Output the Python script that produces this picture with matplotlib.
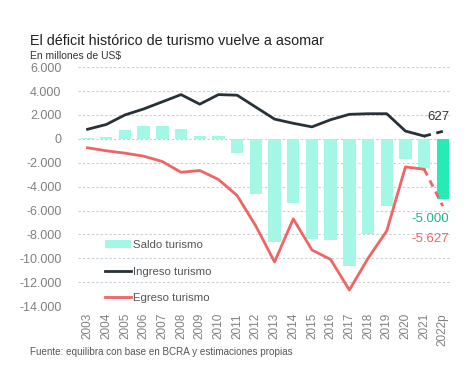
import numpy as np
import matplotlib
matplotlib.use("Agg")
import matplotlib.pyplot as plt

plt.rcParams['font.family'] = ['Liberation Sans', 'DejaVu Sans']

# datos (millones de US$)
anios = ['2003', '2004', '2005', '2006', '2007', '2008', '2009', '2010', '2011', '2012',
         '2013', '2014', '2015', '2016', '2017', '2018', '2019', '2020', '2021', '2022p']
saldo = [50, 150, 750, 1100, 1100, 850, 250, 250, -1150, -4600,
         -8600, -5400, -8350, -8500, -10600, -7950, -5600, -1700, -2400, -5000]
ingreso = [800, 1200, 2000, 2500, 3100, 3700, 2900, 3700, 3650, 2650,
           1650, 1300, 1000, 1600, 2050, 2100, 2100, 650, 230, 627]
egreso = [-750, -1000, -1200, -1450, -1900, -2800, -2650, -3400, -4750, -7300,
          -10300, -6700, -9300, -10100, -12650, -10000, -7700, -2350, -2550, -5627]

x = np.arange(len(anios))
c_bar = '#a3f7e4'
c_bar_p = '#27ebb5'
c_ing = '#263238'
c_egr = '#f06464'

fig = plt.figure(figsize=(4.74, 3.88), dpi=100)
ax = fig.add_axes([0.165, 0.211, 0.789, 0.616])

colores = [c_bar] * (len(x) - 1) + [c_bar_p]
b = ax.bar(x, saldo, width=0.66, color=colores, zorder=2)

# lineas: solidas hasta 2021, proyeccion 2022 punteada
l1, = ax.plot(x[:-1], ingreso[:-1], color=c_ing, lw=2, zorder=3)
ax.plot(x[-2:], ingreso[-2:], color=c_ing, lw=2, ls=(0, (2.5, 2)), zorder=3)
l2, = ax.plot(x[:-1], egreso[:-1], color=c_egr, lw=2, zorder=3)
ax.plot(x[-2:], egreso[-2:], color=c_egr, lw=2, ls=(0, (2.5, 2)), zorder=3)

ax.set_xlim(-0.5, len(x) - 0.5)
ax.set_ylim(-14000, 6000)
yt = np.arange(-14000, 6001, 2000)
ax.set_yticks(yt)
ax.set_yticklabels([f'{v:,}'.replace(',', '.') for v in yt])
ax.set_xticks(x)
ax.set_xticklabels(anios, rotation=90)
ax.tick_params(axis='both', length=0, colors='#808080', pad=5)
ax.tick_params(axis='y', pad=12, labelsize=9)
ax.tick_params(axis='x', labelsize=8.5)
ax.grid(axis='y', color='#c5ccd3', ls=(0, (2, 2)), lw=0.8, zorder=0)
for s in ax.spines.values():
    s.set_visible(False)

# etiquetas de 2022p
ax.text(x[-1] + 0.35, ingreso[-1] + 700, '627', ha='right', va='bottom',
        color='#333333', fontsize=9.5)
ax.text(x[-1] + 0.35, -6700, '-5.000', ha='right', va='center',
        color='#20b388', fontsize=9.5)
ax.text(x[-1] + 0.35, -8400, '-5.627', ha='right', va='center',
        color='#f06464', fontsize=9.5)

ax.legend([b, l1, l2], ['Saldo turismo', 'Ingreso turismo', 'Egreso turismo'],
          loc='lower left', bbox_to_anchor=(0.045, -0.03), frameon=False,
          fontsize=8.2, labelcolor='#555555', handlelength=2.3,
          handletextpad=0.1, labelspacing=1.45)

fig.text(0.063, 0.885, 'El déficit histórico de turismo vuelve a asomar',
         fontsize=10.4, color='#222222')
fig.text(0.063, 0.848, 'En millones de US$', fontsize=7.5, color='#333333')
fig.text(0.063, 0.085, 'Fuente: equilibra con base en BCRA y estimaciones propias',
         fontsize=7.1, color='#555555')

fig.savefig('out.png', dpi=100)
